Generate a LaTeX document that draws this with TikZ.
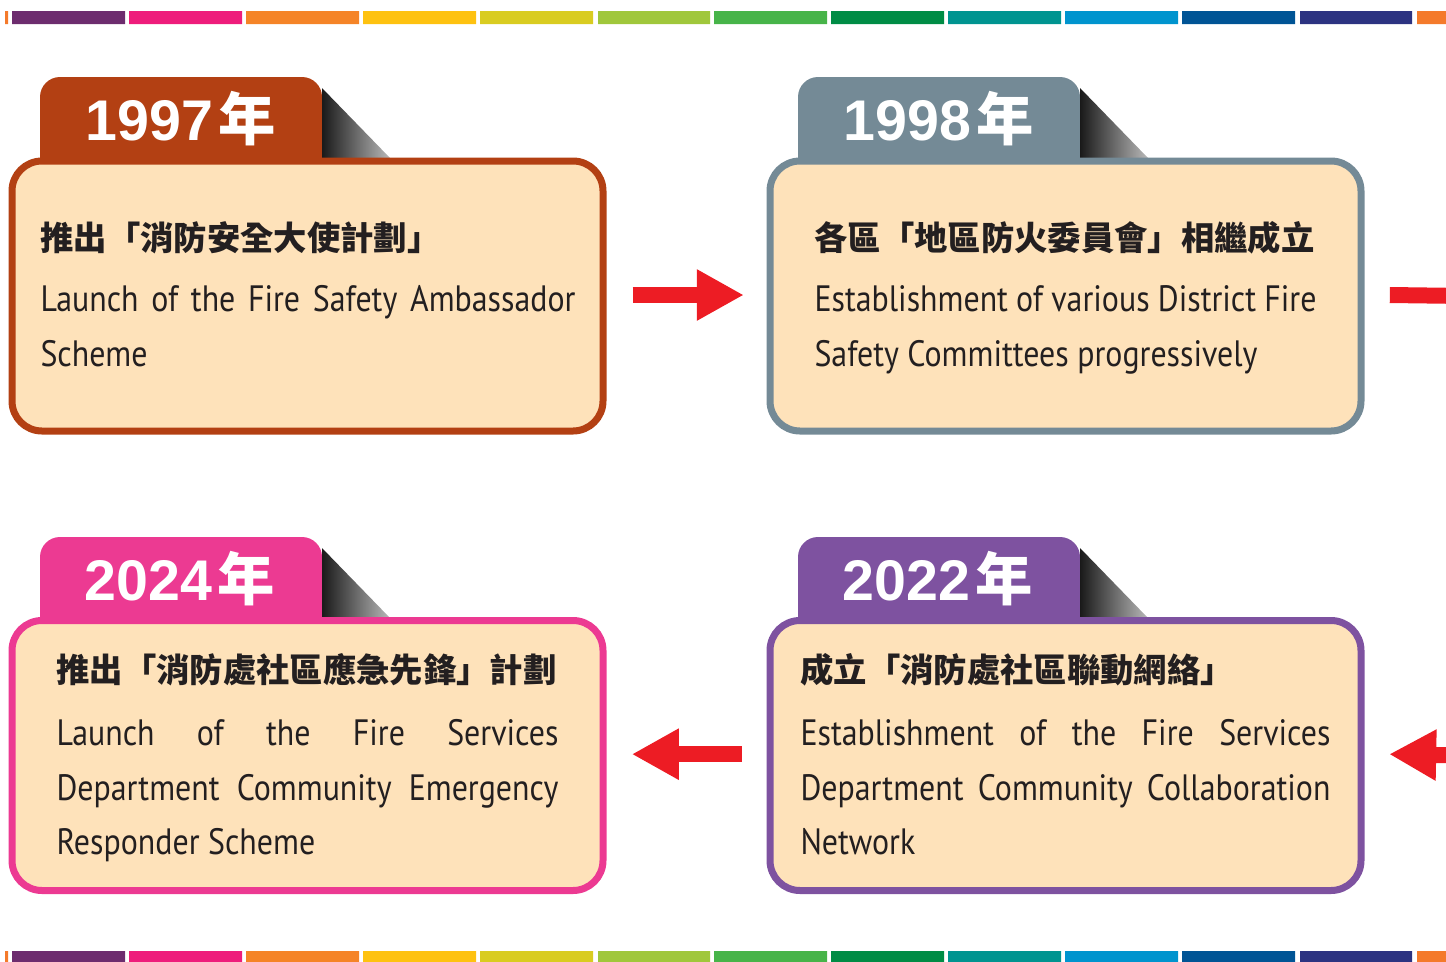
\documentclass[tikz,border=0pt]{standalone}
\usepackage{fontspec}
\usetikzlibrary{arrows.meta}

\newfontfamily\cjkfont{Noto Sans CJK TC}
\newfontfamily\engfont[FakeStretch=0.87]{PT Sans}
\newfontfamily\numfont{Liberation Sans}

\definecolor{barA}{RGB}{109,44,110}
\definecolor{barB}{RGB}{238,28,123}
\definecolor{barC}{RGB}{245,132,39}
\definecolor{barD}{RGB}{254,194,16}
\definecolor{barE}{RGB}{217,204,33}
\definecolor{barF}{RGB}{160,199,59}
\definecolor{barG}{RGB}{71,180,73}
\definecolor{barH}{RGB}{0,140,69}
\definecolor{barI}{RGB}{0,148,144}
\definecolor{barJ}{RGB}{0,148,206}
\definecolor{barK}{RGB}{0,84,149}
\definecolor{barL}{RGB}{44,51,129}
\definecolor{barM}{RGB}{244,122,43}
\definecolor{tab97}{RGB}{179,64,19}
\definecolor{tab98}{RGB}{116,138,150}
\definecolor{tab24}{RGB}{236,58,146}
\definecolor{tab22}{RGB}{126,82,160}
\definecolor{cardfill}{RGB}{254,226,186}
\definecolor{arrowred}{RGB}{237,28,36}
\definecolor{inktext}{RGB}{35,31,32}

\tikzset{every picture/.style={line width=0.75pt}}
\tikzset{
  card/.style={draw=#1, fill=cardfill, line width=5.25pt, rounded corners=22.5pt,
    minimum width=443.25pt, minimum height=202.5pt, inner sep=0pt},
  yeartxt/.style={text=white, font=\numfont\bfseries\fontsize{43}{50}\selectfont,
    inner sep=0.75pt, anchor=base},
  titletxt/.style={text=inktext, font=\cjkfont\bfseries\fontsize{25}{30}\selectfont,
    inner sep=0pt, anchor=base west},
  engtxt/.style={text=inktext, font=\engfont\fontsize{27.5}{41.25}\selectfont,
    inner sep=0pt, anchor=base west},
  foldshade/.style={left color=black!90, right color=gray!55},
  flowarrow/.style={draw=arrowred, line width=12pt,
    -{Triangle[length=35.25pt,width=36pt]}},
}

\begin{document}
\begin{tikzpicture}[x=0.75pt,y=0.75pt,yscale=-1,xscale=1]
    \useasboundingbox (0,0) rectangle (1446,961);
    \clip (0,0) rectangle (1446,961);

    %Colour bars, top and bottom
    \fill[barM] (5,11) rectangle (8,24) (5,951) rectangle (8,965);
    \fill[barA] (12,11) rectangle (125,24) (12,951) rectangle (125,965);
    \fill[barB] (129,11) rectangle (242,24) (129,951) rectangle (242,965);
    \fill[barC] (246,11) rectangle (359,24) (246,951) rectangle (359,965);
    \fill[barD] (363,11) rectangle (476,24) (363,951) rectangle (476,965);
    \fill[barE] (480,11) rectangle (593,24) (480,951) rectangle (593,965);
    \fill[barF] (598,11) rectangle (710,24) (598,951) rectangle (710,965);
    \fill[barG] (714,11) rectangle (827,24) (714,951) rectangle (827,965);
    \fill[barH] (831,11) rectangle (944,24) (831,951) rectangle (944,965);
    \fill[barI] (948,11) rectangle (1061,24) (948,951) rectangle (1061,965);
    \fill[barJ] (1065,11) rectangle (1178,24) (1065,951) rectangle (1178,965);
    \fill[barK] (1182,11) rectangle (1295,24) (1182,951) rectangle (1295,965);
    \fill[barL] (1300,11) rectangle (1412,24) (1300,951) rectangle (1412,965);
    \fill[barM] (1417,11) rectangle (1450,24) (1417,951) rectangle (1450,965);

    %Tabs and folds
    \fill[tab97] (40,165) [rounded corners=15pt] -- (40,77) -- (322,77) [sharp corners] -- (322,165) -- cycle;
    \shade[foldshade] (322,88) -- (390,158) -- (322,158) -- cycle;
    \fill[tab98] (798,165) [rounded corners=15pt] -- (798,77) -- (1080,77) [sharp corners] -- (1080,165) -- cycle;
    \shade[foldshade] (1080,88) -- (1148,158) -- (1080,158) -- cycle;
    \fill[tab24] (40,625) [rounded corners=15pt] -- (40,537) -- (322,537) [sharp corners] -- (322,625) -- cycle;
    \shade[foldshade] (322,548) -- (390,618) -- (322,618) -- cycle;
    \fill[tab22] (798,625) [rounded corners=15pt] -- (798,537) -- (1080,537) [sharp corners] -- (1080,625) -- cycle;
    \shade[foldshade] (1080,548) -- (1148,618) -- (1080,618) -- cycle;

    %Cards
    \node[card=tab97] (c97) at (307.5,296) {};
    \node[card=tab98] (c98) at (1065.5,296) {};
    \node[card=tab24] (c24) at (307.5,755.5) {};
    \node[card=tab22] (c22) at (1065.5,755.5) {};

    % Year labels
    \node[yeartxt] (y97) at (181,140) {1997\hspace{4pt}{\cjkfont 年}};
    \node[yeartxt] (y98) at (939,140) {1998\hspace{4pt}{\cjkfont 年}};
    \node[yeartxt] (y24) at (180,600) {2024\hspace{4pt}{\cjkfont 年}};
    \node[yeartxt] (y22) at (938,600) {2022\hspace{4pt}{\cjkfont 年}};

    % Text 1997
    \node[titletxt] (t97) at (40,250) {推出「消防安全大使計劃」};
    \node[engtxt] (e97a) at (40,311) {\makebox[401.25pt][s]{Launch of the Fire Safety Ambassador}};
    \node[engtxt] (e97b) at (40,366) {Scheme};
    % Text 1998
    \node[titletxt] (t98) at (814,250) {各區「地區防火委員會」相繼成立};
    \node[engtxt] (e98a) at (814,311) {\makebox[376.5pt][s]{Establishment of various District Fire}};
    \node[engtxt] (e98b) at (814,366) {Safety Committees progressively};
    % Text 2024
    \node[titletxt] (t24) at (56,682) {推出「消防處社區應急先鋒」計劃};
    \node[engtxt] (e24a) at (56,745) {\makebox[376.5pt][s]{Launch of the Fire Services}};
    \node[engtxt] (e24b) at (56,800) {\makebox[376.5pt][s]{Department Community Emergency}};
    \node[engtxt] (e24c) at (56,854) {Responder Scheme};
    % Text 2022
    \node[titletxt] (t22) at (800,682) {成立「消防處社區聯動網絡」};
    \node[engtxt] (e22a) at (800,745) {\makebox[397.5pt][s]{Establishment of the Fire Services}};
    \node[engtxt] (e22b) at (800,800) {\makebox[397.5pt][s]{Department Community Collaboration}};
    \node[engtxt] (e22c) at (800,854) {Network};

    %Arrows
    \coordinate (next1) at (1540,297);
    \coordinate (next2) at (1540,757);
    \draw[flowarrow] ([xshift=19.5pt,yshift=-0.75pt]c97.east) -- ([xshift=-17pt,yshift=-0.75pt]c98.west);
    \draw[flowarrow] ([xshift=19pt,yshift=-0.75pt]c98.east) -- (next1);
    \draw[flowarrow] (next2) -- ([xshift=18.5pt,yshift=-1pt]c22.east);
    \draw[flowarrow] ([xshift=-18.5pt,yshift=-1pt]c22.west) -- ([xshift=19pt,yshift=-1pt]c24.east);

\end{tikzpicture}
\end{document}
